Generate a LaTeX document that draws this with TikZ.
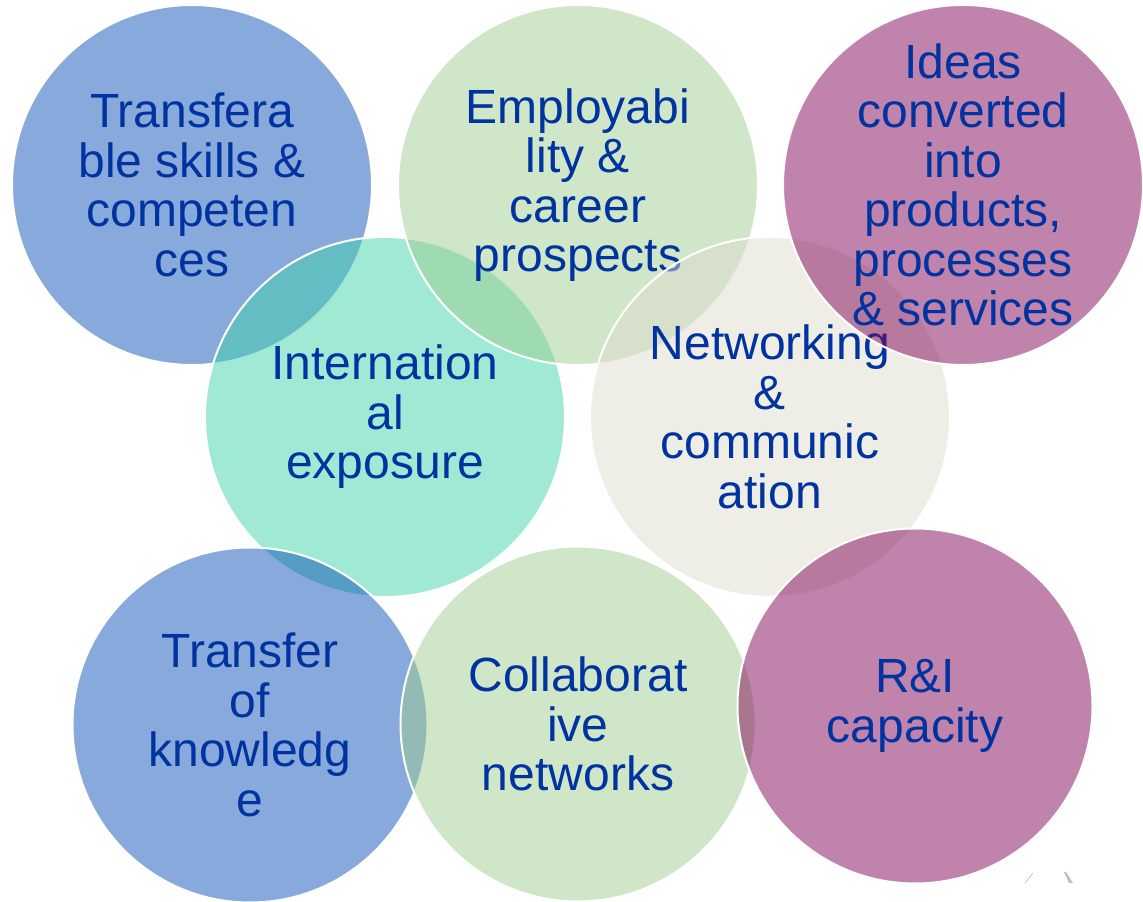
\documentclass[tikz,border=0pt]{standalone}
\usepackage{fontspec}
\setmainfont{Liberation Sans}
\usetikzlibrary{positioning}

\definecolor{captionblue}{RGB}{0,51,160}
\definecolor{skillblue}{RGB}{15,83,183}
\definecolor{exposureteal}{RGB}{65,211,171}
\definecolor{careergreen}{RGB}{159,205,145}
\definecolor{networkgray}{RGB}{221,219,205}
\definecolor{ideapurple}{RGB}{129,7,87}

\begin{document}
\begin{tikzpicture}[x=1pt, y=1pt, node distance=386pt]
    % Define node styles
    \tikzstyle{bubble} = [circle, draw=white, line width=2pt, fill opacity=0.5, minimum size=360pt, inner sep=0pt]
    \tikzstyle{low bubble} = [bubble, minimum size=355pt]
    \tikzstyle{caption} = [align=center, text=captionblue, font=\fontsize{48}{49.5}\selectfont]

    \useasboundingbox (0,0) rectangle (1143,902);

    % Top left bubble
    \node[bubble, fill=skillblue] (skills) at (192,717) {};
    \node[caption] (skills text) at (skills) {Transfera\\ble skills \&\\competen\\ces};

    % Middle left bubble
    \node[bubble, fill=exposureteal] (intl) at (385,485) {};
    \node[caption] (intl text) at (intl) {Internation\\al\\exposure};

    % Top middle bubble
    \node[bubble, fill=careergreen] (career) [right of=skills] {};
    \node[caption] (career text) at (career) {Employabi\\lity \&\\career\\prospects};

    % Middle right bubble
    \node[bubble, fill=networkgray] (network) [right of=intl, xshift=-1pt] {};
    \node[caption] (network text) at (network) {Networking\\\&\\communic\\ation};

    % Top right bubble
    \node[bubble, fill=ideapurple] (ideas) [right of=career, xshift=-1pt] {};
    \node[caption] (ideas text) at (ideas) {Ideas\\converted\\into\\products,\\processes\\\& services};

    % Bottom row
    \node[low bubble, fill=skillblue] (knowledge) at (250,177) {};
    \node[caption] (knowledge text) at (knowledge) {Transfer\\of\\knowledg\\e};

    \node[low bubble, fill=careergreen] (collab) [right of=knowledge, xshift=-58pt, yshift=1pt] {};
    \node[caption] (collab text) at (collab) {Collaborat\\ive\\networks};

    \node[low bubble, fill=ideapurple] (capacity) [right of=collab, xshift=-49pt, yshift=18pt] {};
    \node[caption] (capacity text) at (capacity) {R\&I\\capacity};

    % Small mark in the corner
    \draw[black!25, line width=0.6pt] (1033,29) -- (1025,19);
    \fill[black!25] (1064,30) -- (1066,30) -- (1073,19) -- (1069,19) -- cycle;
\end{tikzpicture}
\end{document}
